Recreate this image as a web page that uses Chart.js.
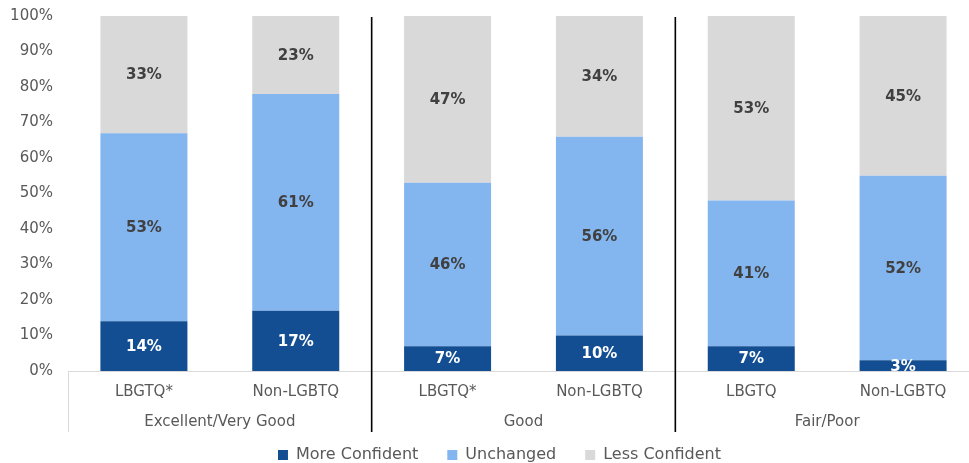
<!DOCTYPE html>
<html>
<head>
<meta charset="utf-8">
<script src="https://cdn.jsdelivr.net/npm/chart.js@4.4.1/dist/chart.umd.min.js"></script>
<style>
  html, body { margin: 0; padding: 0; overflow: hidden; background: #fff; }
  #wrap { width: 979px; height: 473px; }
</style>
</head>
<body>
<div id="wrap"><canvas id="chart"></canvas></div>
<script>
// Data
const categories = ["LBGTQ*", "Non-LGBTQ", "LBGTQ*", "Non-LGBTQ", "LBGTQ", "Non-LGBTQ"];
const groups = ["Excellent/Very Good", "Good", "Fair/Poor"];
const moreConfident = [14, 17, 7, 10, 7, 3];
const unchanged = [53, 61, 46, 56, 41, 52];
const lessConfident = [33, 23, 47, 34, 53, 45];

const TEXT = "#595959";
const FONT = "'DejaVu Sans', sans-serif";

Chart.defaults.font.family = FONT;
Chart.defaults.font.size = 15;
Chart.defaults.color = TEXT;

// Group labels, separators and the box line under the axis
const groupAxis = {
  id: "groupAxis",
  afterLayout(chart) {
    // legend sits a bit right of the canvas centre in the original
    chart.legend.left += 10;
    chart.legend.right += 10;
  },
  afterDraw(chart) {
    const { ctx, chartArea } = chart;
    const catW = chart.scales.x.width / categories.length;
    const perGroup = categories.length / groups.length;
    const bottom = 432;
    ctx.save();
    ctx.lineWidth = 1;
    ctx.strokeStyle = "#D9D9D9";
    ctx.beginPath();
    ctx.moveTo(chartArea.left + 0.5, chartArea.bottom);
    ctx.lineTo(chartArea.left + 0.5, bottom);
    ctx.stroke();

    ctx.strokeStyle = "#000";
    ctx.lineWidth = 1.6;
    for (let g = 1; g < groups.length; g++) {
      const x = chartArea.left + g * perGroup * catW;
      ctx.beginPath();
      ctx.moveTo(x, chartArea.top + 1);
      ctx.lineTo(x, bottom);
      ctx.stroke();
    }

    ctx.fillStyle = TEXT;
    ctx.font = "15px " + FONT;
    ctx.textAlign = "center";
    ctx.textBaseline = "middle";
    groups.forEach((name, g) => {
      const x = chartArea.left + (g + 0.5) * perGroup * catW;
      ctx.fillText(name, x, 422);
    });
    ctx.restore();
  },
};

// Value labels in the middle of each segment
const barLabels = {
  id: "barLabels",
  afterDatasetsDraw(chart) {
    const { ctx, chartArea } = chart;
    ctx.save();
    ctx.beginPath();
    ctx.rect(chartArea.left, chartArea.top, chartArea.width, chartArea.height);
    ctx.clip();
    ctx.font = "bold 15px " + FONT;
    ctx.textAlign = "center";
    ctx.textBaseline = "middle";
    chart.data.datasets.forEach((ds, i) => {
      chart.getDatasetMeta(i).data.forEach((bar, j) => {
        const top = Math.max(bar.y, chartArea.top);
        ctx.fillStyle = ds.labelColor;
        ctx.fillText(ds.data[j] + "%", bar.x, (top + bar.base) / 2 + 1);
      });
    });
    ctx.restore();
  },
};

new Chart(document.getElementById("chart"), {
  type: "bar",
  data: {
    labels: categories,
    datasets: [
      { label: "More Confident", data: moreConfident, backgroundColor: "#124E91", labelColor: "#fff" },
      { label: "Unchanged", data: unchanged, backgroundColor: "#83B5EF", labelColor: "#404040" },
      { label: "Less Confident", data: lessConfident, backgroundColor: "#D9D9D9", labelColor: "#404040" },
    ].map((d) => ({ ...d, clip: 0, categoryPercentage: 1, barPercentage: 0.573 })),
  },
  options: {
    responsive: true,
    maintainAspectRatio: false,
    animation: false,
    layout: { padding: { left: 0, top: 16, right: 0, bottom: 0 } },
    plugins: {
      tooltip: { enabled: false },
      legend: {
        position: "bottom",
        labels: { boxWidth: 10, boxHeight: 10, padding: 29, color: TEXT, font: { size: 16 } },
      },
    },
    scales: {
      x: {
        stacked: true,
        grid: { display: false, drawTicks: false },
        border: { color: "#D9D9D9", width: 1 },
        ticks: { padding: 12, color: TEXT, maxRotation: 0, autoSkip: false },
        afterFit: (scale) => { scale.height = 47; },
      },
      y: {
        stacked: true,
        min: 0,
        max: 100,
        grid: { display: false, drawTicks: false },
        border: { display: false },
        ticks: { stepSize: 10, padding: 15, color: TEXT, callback: (v) => v + "%" },
        afterFit: (scale) => {
          scale.width = 68;
          scale.paddingTop = 0;
          scale.paddingBottom = 0;
        },
      },
    },
  },
  plugins: [barLabels, groupAxis],
});
</script>
</body>
</html>
